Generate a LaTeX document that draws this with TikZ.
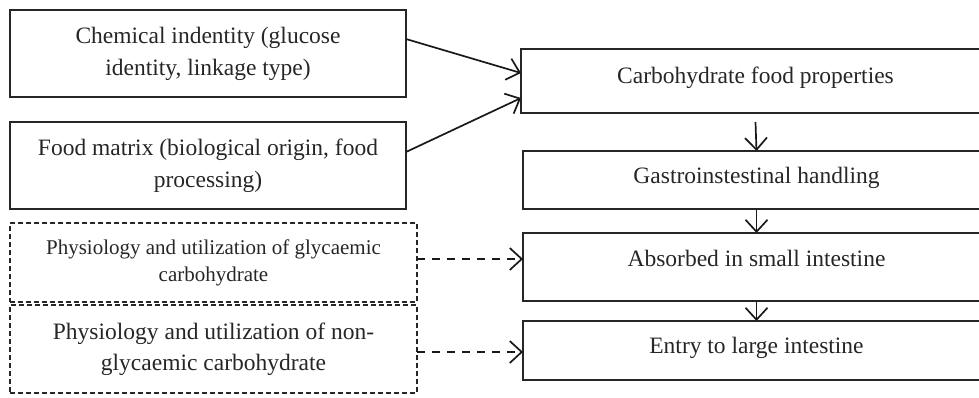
\documentclass[tikz,border=0pt]{standalone}
\usepackage{fontspec}
\setmainfont{Liberation Serif}
\usetikzlibrary{arrows.meta}
\begin{document}
\begin{tikzpicture}[x=1pt,y=-1pt,
  box/.style={draw=black!85, line width=1.8pt, outer sep=0pt, inner sep=0pt, align=center, text=black!85},
  dbox/.style={draw=black!85, line width=1.3pt, dash pattern=on 5pt off 3pt, outer sep=0pt, inner sep=0pt, align=center, text=black!85},
  mainfont/.style={font=\fontsize{23.5}{32}\selectfont},
  arr/.style={draw=black!90, line width=1.7pt, -{Straight Barb[length=12pt,width=22pt,line width=1.7pt]}},
  darr/.style={arr, dash pattern=on 8pt off 7pt}]
\useasboundingbox (0,0) rectangle (979,397);
\clip (0,0) rectangle (979,397);
% left boxes
\node[box, mainfont, minimum width=396pt, minimum height=87pt] (L1) at (208,53.5) {Chemical indentity (glucose\\identity, linkage type)};
\node[box, mainfont, minimum width=396pt, minimum height=87pt] (L2) at (208,165.5) {Food matrix (biological origin, food\\processing)};
\node[dbox, font=\fontsize{21}{27}\selectfont, minimum width=407pt, minimum height=79pt] (D1) at (213.5,262.5) {Physiology and utilization of glycaemic\\carbohydrate};
\node[dbox, font=\fontsize{23.5}{31}\selectfont, minimum width=407pt, minimum height=88pt] (D2) at (213.5,349) {Physiology and utilization of non-\\glycaemic carbohydrate};
% right boxes
\node[box, mainfont, minimum width=469pt, minimum height=64pt, text depth=12pt] (A) at (755.5,81) {Carbohydrate food properties};
\node[box, mainfont, minimum width=467pt, minimum height=58pt, text depth=10pt] (B) at (756.5,180) {Gastroinstestinal handling};
\node[box, mainfont, minimum width=467pt, minimum height=68pt, text depth=18pt] (C) at (756.5,267) {Absorbed in small intestine};
\node[box, mainfont, minimum width=467pt, minimum height=59pt, text depth=10pt] (D) at (756.5,350.5) {Entry to large intestine};
% connectors
\draw[arr] ([yshift=14.5pt]L1.east) -- ([yshift=8pt]A.west);
\draw[arr] ([yshift=13.5pt]L2.east) -- ([yshift=-17pt]A.west);
\draw[arr] ([yshift=-9pt]A.south) -- (B.north);
\draw[arr] (B.south) -- (C.north);
\draw[arr] (C.south) -- (D.north);
\coordinate (s1) at ([yshift=3.5pt]D1.east);
\coordinate (s2) at ([yshift=-3pt]D2.east);
\draw[darr] (s1) -- (s1 -| C.west);
\draw[darr] (s2) -- (s2 -| D.west);
\end{tikzpicture}
\end{document}
